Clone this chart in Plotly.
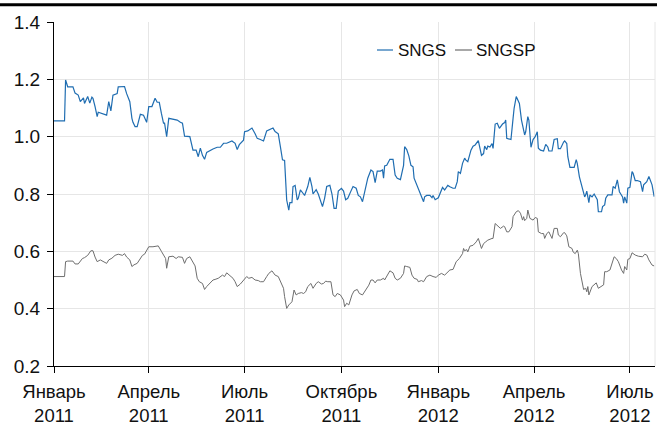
import pandas as pd
import plotly.graph_objects as go

START = "2011-01-01"

# SNGS: days since 2011-01-01 and price
sngs_days = [0, 10, 11, 13, 18, 20, 23, 25, 28, 29, 32, 34, 36, 37, 39, 41, 42, 46, 48, 50,
             52, 54, 56, 60, 61, 65, 67, 69, 72, 74, 75, 77, 79, 82, 85, 88, 90, 93, 96, 98,
             100, 102, 104, 105, 107, 109, 113, 117, 120, 122, 124, 129, 132, 135, 137, 139, 141, 143, 145, 148,
             151, 155, 158, 161, 164, 169, 172, 174, 176, 180, 181, 184, 188, 191, 193, 196, 199, 202, 205, 208,
             210, 213, 215, 217, 219, 220, 221, 223, 224, 226, 227, 229, 231, 232, 234, 237, 238, 241, 243, 245,
             246, 249, 251, 255, 257, 259, 262, 264, 266, 268, 270, 273, 275, 277, 279, 282, 284, 287, 289, 291,
             293, 294, 296, 298, 301, 303, 305, 307, 310, 312, 313, 314, 316, 319, 322, 324, 326, 329, 332, 333,
             335, 337, 339, 341, 342, 345, 346, 348, 351, 352, 354, 357, 359, 360, 362, 365, 369, 371, 374, 376,
             379, 381, 383, 384, 386, 388, 390, 391, 393, 396, 398, 400, 403, 406, 408, 409, 411, 412, 414, 416,
             417, 419, 421, 423, 426, 428, 429, 430, 434, 436, 437, 439, 441, 442, 444, 446, 447, 448, 450, 451,
             453, 455, 457, 459, 460, 462, 465, 467, 469, 470, 473, 475, 478, 479, 481, 484, 485, 487, 488, 490,
             493, 494, 496, 497, 499, 501, 503, 504, 505, 506, 508, 509, 511, 513, 516, 517, 520, 521, 523, 524,
             526, 530, 531, 533, 535, 537, 540, 541, 542, 544, 545, 547, 549, 550, 552, 554, 557, 559, 560, 563,
             565, 567, 568, 570]
sngs_vals = [1.055, 1.055, 1.198, 1.174, 1.174, 1.152, 1.145, 1.122, 1.135, 1.116, 1.14, 1.117, 1.138, 1.134, 1.105, 1.07, 1.085, 1.08, 1.078, 1.075,
             1.122, 1.09, 1.145, 1.15, 1.174, 1.176, 1.175, 1.15, 1.122, 1.064, 1.05, 1.035, 1.035, 1.078, 1.075, 1.05, 1.105, 1.105, 1.134, 1.12,
             1.12, 1.081, 1.047, 1.047, 1.0, 1.064, 1.06, 1.058, 1.05, 1.047, 1.002, 1.0, 0.953, 0.953, 0.93, 0.96, 0.935, 0.921, 0.945, 0.952,
             0.957, 0.963, 0.963, 0.977, 0.977, 0.985, 0.977, 0.955, 0.972, 0.988, 1.017, 1.02, 1.03, 1.01, 0.994, 0.99, 0.985, 1.02, 1.025, 1.03,
             1.018, 1.01, 0.965, 0.919, 0.917, 0.837, 0.779, 0.744, 0.77, 0.77, 0.826, 0.83, 0.779, 0.785, 0.814, 0.80, 0.795, 0.826, 0.858, 0.826,
             0.80, 0.815, 0.80, 0.756, 0.785, 0.826, 0.83, 0.80, 0.75, 0.75, 0.81, 0.82, 0.81, 0.78, 0.785, 0.81, 0.826, 0.82, 0.795, 0.79,
             0.773, 0.79, 0.82, 0.855, 0.884, 0.878, 0.84, 0.88, 0.88, 0.884, 0.855, 0.898, 0.9, 0.921, 0.921, 0.866, 0.855, 0.85, 0.9, 0.965,
             0.955, 0.933, 0.9, 0.895, 0.855, 0.826, 0.82, 0.80, 0.773, 0.79, 0.795, 0.795, 0.787, 0.795, 0.78, 0.787, 0.823, 0.814, 0.83, 0.825,
             0.82, 0.82, 0.843, 0.878, 0.872, 0.907, 0.925, 0.919, 0.913, 0.953, 0.967, 0.971, 0.986, 0.935, 0.941, 0.967, 0.955, 0.967, 0.964, 0.976,
             0.959, 1.044, 1.047, 1.029, 1.044, 1.049, 1.058, 0.994, 0.99, 1.064, 1.099, 1.14, 1.122, 1.116, 1.058, 1.023, 1.006, 1.017, 1.07, 1.058,
             0.963, 0.99, 1.0, 1.017, 0.96, 0.953, 0.95, 0.973, 0.964, 0.95, 0.95, 0.99, 0.993, 0.958, 0.958, 0.981, 0.985, 0.976, 0.93, 0.893,
             0.893, 0.893, 0.92, 0.906, 0.86, 0.83, 0.80, 0.79, 0.797, 0.81, 0.77, 0.797, 0.79, 0.80, 0.78, 0.738, 0.738, 0.756, 0.762, 0.785,
             0.797, 0.797, 0.826, 0.82, 0.849, 0.808, 0.79, 0.768, 0.79, 0.768, 0.82, 0.823, 0.878, 0.872, 0.847, 0.847, 0.843, 0.808, 0.832, 0.843,
             0.861, 0.838, 0.832, 0.791]

# SNGSP: days since 2011-01-01 and price
sngsp_days = [0, 10, 11, 13, 18, 20, 23, 27, 29, 32, 35, 37, 39, 41, 44, 47, 50, 52, 55, 58,
              61, 65, 67, 69, 72, 74, 76, 79, 81, 84, 86, 88, 90, 94, 99, 102, 104, 106, 107, 109,
              113, 116, 118, 122, 124, 126, 129, 132, 134, 136, 138, 141, 143, 145, 148, 151, 153, 156, 160, 162,
              164, 167, 170, 172, 174, 177, 180, 183, 185, 188, 191, 194, 196, 199, 202, 204, 207, 210, 213, 216,
              218, 219, 221, 223, 226, 228, 230, 232, 235, 237, 239, 241, 244, 246, 249, 251, 254, 256, 258, 260,
              263, 265, 267, 269, 272, 275, 276, 278, 280, 283, 285, 288, 290, 293, 295, 297, 299, 301, 303, 305,
              307, 310, 313, 314, 316, 319, 322, 324, 326, 329, 332, 333, 335, 338, 340, 342, 345, 346, 349, 351,
              354, 357, 360, 363, 365, 368, 371, 373, 376, 379, 382, 385, 388, 389, 390, 392, 393, 395, 398, 401,
              403, 406, 408, 410, 412, 416, 417, 419, 421, 424, 427, 428, 430, 432, 435, 436, 439, 441, 443, 445,
              446, 447, 449, 450, 452, 455, 457, 459, 460, 463, 465, 466, 468, 470, 473, 475, 478, 479, 481, 484,
              485, 487, 489, 492, 493, 495, 497, 498, 500, 502, 503, 505, 506, 507, 508, 511, 513, 515, 517, 520,
              522, 523, 525, 528, 531, 532, 534, 536, 539, 541, 542, 544, 545, 547, 549, 552, 555, 559, 561, 563,
              565, 568, 570]
sngsp_vals = [0.512, 0.512, 0.564, 0.566, 0.566, 0.556, 0.556, 0.575, 0.578, 0.586, 0.602, 0.602, 0.58, 0.564, 0.57, 0.564, 0.558, 0.57, 0.576, 0.586,
              0.59, 0.586, 0.592, 0.58, 0.57, 0.547, 0.553, 0.558, 0.57, 0.586, 0.59, 0.602, 0.616, 0.616, 0.619, 0.60, 0.587, 0.575, 0.541, 0.581,
              0.583, 0.575, 0.581, 0.579, 0.558, 0.575, 0.581, 0.564, 0.549, 0.506, 0.494, 0.488, 0.467, 0.477, 0.49, 0.50, 0.502, 0.506, 0.517, 0.512,
              0.525, 0.514, 0.506, 0.494, 0.477, 0.486, 0.50, 0.512, 0.506, 0.509, 0.50, 0.498, 0.494, 0.494, 0.512, 0.523, 0.532, 0.517, 0.512, 0.488,
              0.471, 0.442, 0.401, 0.413, 0.424, 0.465, 0.448, 0.453, 0.456, 0.453, 0.459, 0.477, 0.488, 0.471, 0.488, 0.494, 0.486, 0.488, 0.496, 0.494,
              0.494, 0.448, 0.442, 0.453, 0.448, 0.43, 0.407, 0.419, 0.413, 0.448, 0.462, 0.467, 0.453, 0.448, 0.459, 0.467, 0.482, 0.50, 0.50, 0.49,
              0.50, 0.50, 0.506, 0.50, 0.512, 0.532, 0.525, 0.506, 0.50, 0.506, 0.523, 0.549, 0.547, 0.544, 0.517, 0.506, 0.502, 0.494, 0.498, 0.494,
              0.512, 0.517, 0.512, 0.509, 0.517, 0.523, 0.517, 0.523, 0.535, 0.537, 0.564, 0.575, 0.592, 0.61, 0.602, 0.606, 0.598, 0.618, 0.621, 0.633,
              0.645, 0.61, 0.627, 0.633, 0.639, 0.645, 0.645, 0.697, 0.691, 0.68, 0.688, 0.686, 0.668, 0.668, 0.686, 0.721, 0.738, 0.742, 0.733, 0.709,
              0.721, 0.707, 0.715, 0.744, 0.715, 0.709, 0.718, 0.715, 0.668, 0.662, 0.662, 0.645, 0.662, 0.668, 0.645, 0.68, 0.68, 0.657, 0.651, 0.665,
              0.665, 0.654, 0.616, 0.61, 0.598, 0.592, 0.604, 0.592, 0.523, 0.488, 0.467, 0.471, 0.459, 0.477, 0.448, 0.477, 0.483, 0.49, 0.471, 0.477,
              0.483, 0.529, 0.529, 0.535, 0.564, 0.581, 0.575, 0.564, 0.535, 0.523, 0.547, 0.535, 0.572, 0.575, 0.595, 0.587, 0.583, 0.581, 0.59, 0.587,
              0.57, 0.552, 0.549]

tick_dates = ["2011-01-01", "2011-04-01", "2011-07-01", "2011-10-01",
              "2012-01-01", "2012-04-01", "2012-07-01"]
tick_labels = ["Январь<br>2011", "Апрель<br>2011", "Июль<br>2011", "Октябрь<br>2011",
               "Январь<br>2012", "Апрель<br>2012", "Июль<br>2012"]
y_ticks = [0.2, 0.4, 0.6, 0.8, 1.0, 1.2, 1.4]
series_names = ["SNGS", "SNGSP"]
series_colors = ["#1f6db1", "#6e6e6e"]

start = pd.Timestamp(START)
sngs_x = start + pd.to_timedelta(sngs_days, unit="D")
sngsp_x = start + pd.to_timedelta(sngsp_days, unit="D")

FONT = "Liberation Sans, Arial, sans-serif"

fig = go.Figure()
fig.add_trace(go.Scatter(x=sngs_x, y=sngs_vals, mode="lines", name=series_names[0],
                         line=dict(color=series_colors[0], width=1.2)))
fig.add_trace(go.Scatter(x=sngsp_x, y=sngsp_vals, mode="lines", name=series_names[1],
                         line=dict(color=series_colors[1], width=1)))

# Legend drawn as short line keys + text (paper coordinates)
LEG_Y = 0.9186
leg_key_x = [(0.5374, 0.5641), (0.6672, 0.6955)]
leg_text_x = [0.5724, 0.7022]

shapes = [
    dict(type="rect", xref="paper", yref="paper", x0=0.529, x1=0.812,
         y0=0.884, y1=0.956, fillcolor="white", line=dict(width=0), layer="between"),
    dict(type="line", xref="paper", yref="paper", x0=-0.1, x1=1.01,
         y0=1.050, y1=1.050, line=dict(color="black", width=3)),
    dict(type="line", xref="paper", yref="paper", x0=1, x1=1,
         y0=0, y1=1, line=dict(color="#e6e6e6", width=1)),
]
annotations = []
for (kx0, kx1), tx, name, col in zip(leg_key_x, leg_text_x, series_names, series_colors):
    shapes.append(dict(type="line", xref="paper", yref="paper", x0=kx0, x1=kx1,
                       y0=LEG_Y, y1=LEG_Y, line=dict(color=col, width=1.2)))
    annotations.append(dict(xref="paper", yref="paper", x=tx, y=LEG_Y, text=name,
                            showarrow=False, xanchor="left", yanchor="middle",
                            font=dict(size=17, color="#111"), xshift=-2))

fig.update_layout(
    width=657, height=426,
    margin=dict(l=54, r=2, t=22, b=60),
    paper_bgcolor="white", plot_bgcolor="white",
    font=dict(family=FONT, size=19, color="#111"),
    showlegend=False,
    xaxis=dict(
        type="date",
        range=[start, start + pd.Timedelta(days=570.8)],
        tickvals=tick_dates, ticktext=tick_labels,
        tickfont=dict(size=18.5),
        showgrid=True, gridcolor="#e6e6e6", gridwidth=1,
        showline=True, linecolor="black", linewidth=1,
        ticks="outside", ticklen=6, tickcolor="black",
        ticklabelstandoff=3, automargin=False,
        zeroline=False,
    ),
    yaxis=dict(
        range=[0.2, 1.4], tickvals=y_ticks, tickformat=".1f",
        showgrid=True, gridcolor="#e6e6e6", gridwidth=1,
        showline=True, linecolor="black", linewidth=1,
        ticks="outside", ticklen=6, tickcolor="black",
        ticklabelstandoff=3, automargin=False,
        zeroline=False,
    ),
    shapes=shapes,
    annotations=annotations,
)

fig.write_html("out.html",
               config={"displayModeBar": False},
               post_script="document.body.style.margin='0';document.body.style.overflow='hidden';")
